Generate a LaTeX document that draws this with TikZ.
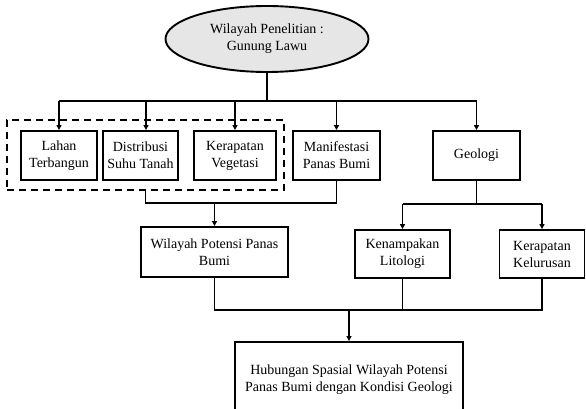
\documentclass[tikz,border=0pt]{standalone}
\usepackage{fontspec}
\setmainfont{Liberation Serif}
\usetikzlibrary{arrows.meta,shapes.geometric}
\definecolor{ellfill}{HTML}{E6E6E6}
\begin{document}
\begin{tikzpicture}[x=1pt,y=-1pt,
  every node/.style={font=\fontsize{14}{17}\selectfont, align=center, inner sep=0pt},
  box/.style={draw, line width=1.9pt, rectangle, minimum height=49pt},
  conn/.style={line width=1.9pt},
  arr/.style={conn, -{Triangle[length=5pt,width=5pt]}}]
\clip (0,0) rectangle (586,409);
% nodes
\node[ellipse, draw, line width=1.9pt, fill=ellfill, minimum width=203pt, minimum height=66pt] (top) at (267,39) {Wilayah Penelitian :\\Gunung Lawu};
\node[box, minimum width=76pt] (lahan) at (59,155.5) {Lahan\\Terbangun};
\node[box, minimum width=75pt] (distribusi) at (140.5,155.5) {Distribusi\\Suhu Tanah};
\node[box, minimum width=82pt] (vegetasi) at (235,155.5) {Kerapatan\\Vegetasi};
\node[box, minimum width=87pt] (manifestasi) at (336.5,155.5) {Manifestasi\\Panas Bumi};
\node[box, minimum width=87pt] (geologi) at (476.5,155.5) {Geologi};
\node[draw, line width=1.9pt, dash pattern=on 7pt off 5pt, minimum width=277pt, minimum height=70pt] (grp) at (145.5,155) {};
\node[box, minimum width=147pt, minimum height=50pt] (potensi) at (214.5,252) {Wilayah Potensi Panas\\Bumi};
\node[box, minimum width=95pt, minimum height=48pt] (litologi) at (402.5,254) {Kenampakan\\Litologi};
\node[box, minimum width=85pt, minimum height=48pt] (kelurusan) at (542,254) {Kerapatan\\Kelurusan};
\node[box, minimum width=228pt, minimum height=76pt] (hubungan) at (349,380) {Hubungan Spasial Wilayah Potensi\\Panas Bumi dengan Kondisi Geologi};
% junction coordinates
\coordinate (bus) at (267,101);
\coordinate (jm) at (146,203);
\coordinate (jg) at (477,204);
\coordinate (jb) at (349,310);
% top bus
\draw[conn] (top.south) -- (top.south |- bus);
\draw[conn] (lahan.north |- bus) -- (geologi.north |- bus);
\draw[arr] (lahan.north |- bus) -- (lahan.north);
\draw[arr] ([xshift=5.5pt]distribusi.north |- bus) -- ([xshift=5.5pt]distribusi.north);
\draw[arr] (vegetasi.north |- bus) -- (vegetasi.north);
\draw[arr] (manifestasi.north |- bus) -- (manifestasi.north);
\draw[arr] (geologi.north |- bus) -- (geologi.north);
% to wilayah potensi
\draw[conn] (grp.south) -- (grp.south |- jm) -- (manifestasi.south |- jm) -- (manifestasi.south);
\draw[arr] (potensi.north |- jm) -- (potensi.north);
% geologi split
\draw[conn] (geologi.south) -- (geologi.south |- jg);
\draw[conn] (litologi.north |- jg) -- (kelurusan.north |- jg);
\draw[arr] (litologi.north |- jg) -- (litologi.north);
\draw[arr] (kelurusan.north |- jg) -- (kelurusan.north);
% bottom merge
\draw[conn] (potensi.south) -- (potensi.south |- jb) -- (kelurusan.south |- jb) -- (kelurusan.south);
\draw[conn] (litologi.south) -- (litologi.south |- jb);
\draw[arr] (jb) -- (hubungan.north);
\end{tikzpicture}
\end{document}
